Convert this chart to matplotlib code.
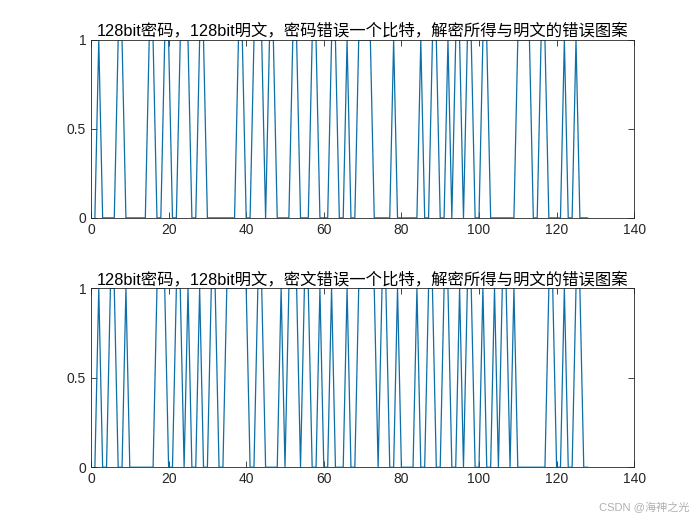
import matplotlib
matplotlib.use('Agg')
import matplotlib.pyplot as plt

# error pattern, key bit flipped
key_err = [0, 1, 0, 0, 0, 0, 1, 1, 0, 0, 0, 0, 0, 0, 1, 1,
           0, 0, 1, 1, 0, 0, 1, 1, 1, 0, 0, 1, 1, 0, 0, 0,
           0, 0, 0, 0, 0, 1, 1, 0, 0, 1, 1, 1, 0, 1, 1, 0,
           0, 0, 0, 1, 1, 0, 0, 0, 1, 1, 0, 0, 0, 1, 1, 0,
           0, 1, 0, 0, 1, 1, 1, 1, 0, 0, 0, 0, 0, 1, 0, 0,
           0, 0, 0, 0, 1, 0, 0, 1, 1, 0, 0, 1, 0, 1, 1, 0,
           1, 1, 0, 0, 1, 1, 0, 0, 0, 0, 0, 0, 0, 1, 1, 1,
           1, 0, 0, 1, 1, 0, 0, 0, 0, 1, 0, 0, 1, 0, 0, 0]

# error pattern, ciphertext bit flipped
cipher_err = [0, 1, 0, 0, 1, 1, 0, 0, 1, 0, 0, 0, 0, 0, 0, 0,
              1, 1, 1, 0, 0, 1, 1, 0, 1, 0, 0, 1, 0, 0, 1, 1,
              0, 0, 1, 1, 1, 1, 1, 1, 0, 0, 1, 1, 0, 0, 0, 0,
              1, 0, 1, 1, 1, 0, 1, 1, 0, 0, 1, 0, 0, 1, 0, 0,
              0, 1, 0, 0, 1, 1, 1, 1, 1, 0, 1, 1, 0, 0, 1, 0,
              0, 0, 0, 1, 0, 0, 1, 1, 0, 0, 1, 1, 0, 0, 1, 0,
              1, 1, 0, 0, 1, 0, 0, 1, 0, 1, 1, 0, 1, 0, 0, 0,
              0, 0, 0, 0, 0, 1, 1, 0, 0, 1, 0, 0, 1, 1, 0, 0]

titles = ['128bit密码，128bit明文，密码错误一个比特，解密所得与明文的错误图案',
          '128bit密码，128bit明文，密文错误一个比特，解密所得与明文的错误图案']

plt.rcParams['font.family'] = ['Liberation Sans', 'Noto Sans CJK SC', 'DejaVu Sans']

dark = '#262626'
fig = plt.figure(figsize=(7, 5.25), dpi=100)
boxes = [[0.130, 0.585, 0.776, 0.339], [0.130, 0.110, 0.776, 0.341]]

for box, bits, title in zip(boxes, [key_err, cipher_err], titles):
    ax = fig.add_axes(box)
    xs = list(range(1, len(bits) + 1))
    ax.plot(xs, bits, color='#0C6FA8', linewidth=0.9)
    ax.set_xlim(0, 140)
    ax.set_ylim(0, 1)
    ax.set_xticks(range(0, 141, 20))
    ax.set_yticks([0, 0.5, 1])
    ax.set_yticklabels(['0', '0.5', '1'])
    ax.tick_params(direction='in', top=True, right=True, length=4,
                   labelsize=10, colors=dark, width=0.6)
    for s in ax.spines.values():
        s.set_color(dark)
        s.set_linewidth(0.6)
    ax.set_title(title, fontsize=11.8, color='black', pad=3)

fig.text(0.985, 0.022, 'CSDN @海神之光', ha='right', va='bottom',
         fontsize=8, color='#b0b0b0')

plt.savefig('out.png', dpi=100)
